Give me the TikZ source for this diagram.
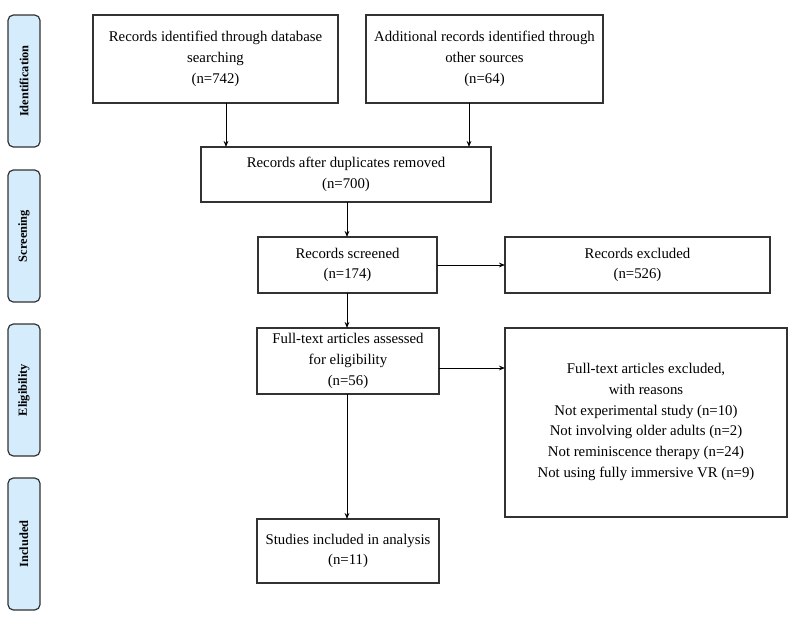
\documentclass[tikz,border=0pt]{standalone}
\usepackage{fontspec}
\setmainfont{Liberation Serif}
\usetikzlibrary{arrows.meta}
\definecolor{sidefill}{RGB}{212,236,252}
\definecolor{lined}{RGB}{50,50,50}
\tikzset{
  box/.style={draw=lined, line width=0.9pt, align=center, font=\fontsize{11.1pt}{15.6pt}\selectfont, inner sep=0pt},
  side/.style={draw=lined, line width=0.9pt, fill=sidefill, rounded corners=4pt},
  sidetext/.style={rotate=90, font=\bfseries\fontsize{9.3pt}{10pt}\selectfont},
  arr/.style={draw=black, line width=0.75pt, -{Stealth[length=4.5pt,width=3.5pt]}},
  ln/.style={draw=black, line width=0.75pt}
}
\begin{document}
\begin{tikzpicture}[x=0.75pt,y=-0.75pt]
\useasboundingbox (0,0) rectangle (800,619);
% side labels
\draw[side] (8,15) rectangle (40,147);
\node[sidetext] (sid) at (24,81) {Identification};
\draw[side] (8,170) rectangle (40,302);
\node[sidetext] (ssc) at (24,236) {Screening};
\draw[side] (8,324) rectangle (40,456);
\node[sidetext] (sel) at (24,390) {Eligibility};
\draw[side] (8,478) rectangle (40,610);
\node[sidetext] (sin) at (24,544) {Included};
% boxes
\draw[box] (93,15) rectangle (338,103);
\node[box,draw=none] (b1) at (215.5,59) {Records identified through database\\searching\\(n=742)};
\draw[box] (366,15) rectangle (603,103);
\node[box,draw=none] (b2) at (484.5,59) {Additional records identified through\\other sources\\(n=64)};
\draw[box] (201,147) rectangle (491,202);
\node[box,draw=none] (b3) at (346,174.5) {Records after duplicates removed\\(n=700)};
\draw[box] (258,237) rectangle (437,293);
\node[box,draw=none] (b4) at (347.5,265) {Records screened\\(n=174)};
\draw[box] (505,237) rectangle (770,293);
\node[box,draw=none] (b5) at (637.5,265) {Records excluded\\(n=526)};
\draw[box] (257,328) rectangle (439,394);
\node[box,draw=none] (b6) at (348,361) {Full-text articles assessed\\for eligibility\\(n=56)};
\draw[box] (505,328) rectangle (787,517);
\node[box,draw=none] (b7) at (646,422) {Full-text articles excluded,\\with reasons\\Not experimental study (n=10)\\Not involving older adults (n=2)\\Not reminiscence therapy (n=24)\\Not using fully immersive VR (n=9)};
\draw[box] (257,519) rectangle (439,583);
\node[box,draw=none] (b8) at (348,551) {Studies included in analysis\\(n=11)};
% connectors
\coordinate (c1a) at (226,103); \coordinate (c1b) at (226,147);
\coordinate (c2a) at (469,103); \coordinate (c2b) at (469,147);
\draw[arr] (c1a) -- (c1b);
\draw[arr] (c2a) -- (c2b);
\coordinate (c3a) at (347,202); \coordinate (c3b) at (347,237);
\draw[arr] (c3a) -- (c3b);
\coordinate (c4a) at (437,265); \coordinate (c4b) at (505,265);
\draw[arr] (c4a) -- (c4b);
\coordinate (c5a) at (347,293); \coordinate (c5b) at (347,328);
\draw[arr] (c5a) -- (c5b);
\coordinate (c6a) at (439,368); \coordinate (c6b) at (505,368);
\draw[arr] (c6a) -- (c6b);
\coordinate (c7a) at (347,394); \coordinate (c7b) at (347,519);
\draw[arr] (c7a) -- (c7b);
\end{tikzpicture}
\end{document}
